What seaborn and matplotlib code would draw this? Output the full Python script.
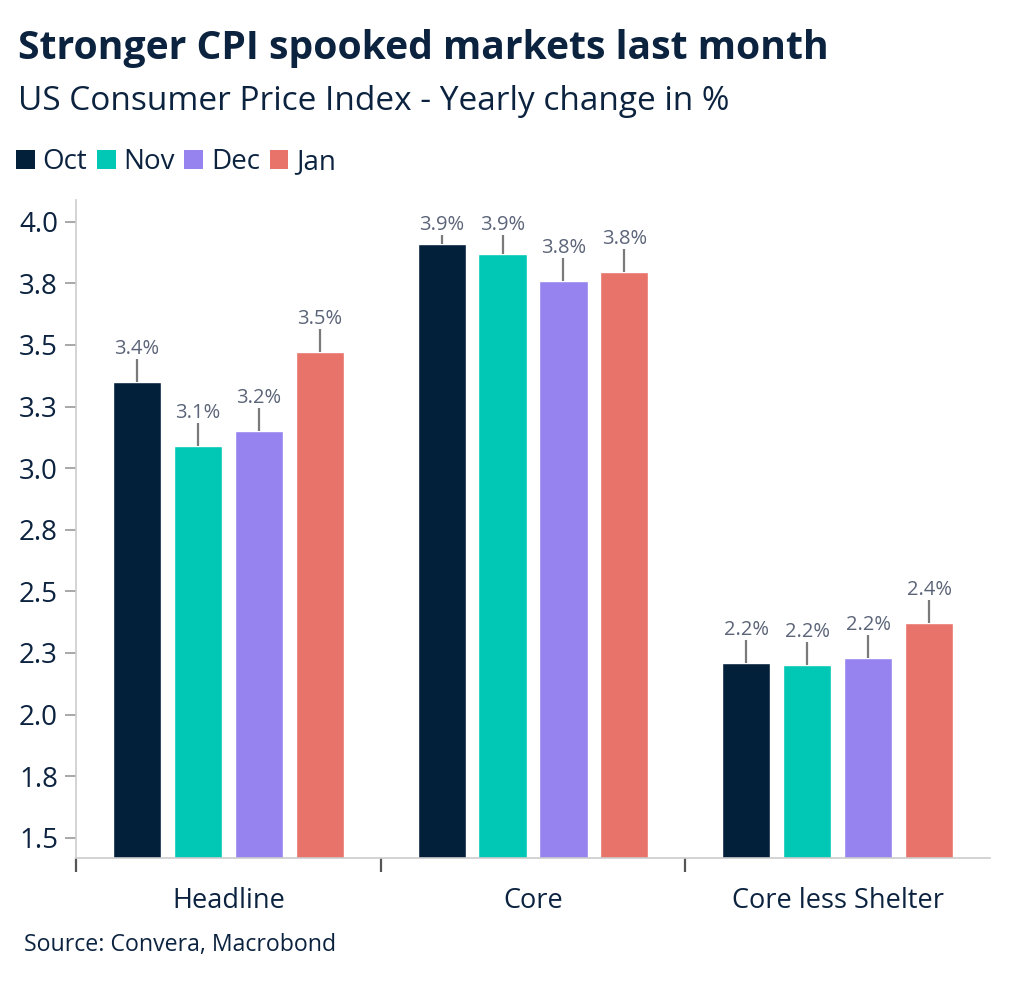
import matplotlib
matplotlib.use("Agg")
import matplotlib.pyplot as plt
import seaborn as sns
import pandas as pd
from matplotlib.patches import Patch

# ---- data ----
categories = ["Headline", "Core", "Core less Shelter"]
months = ["Oct", "Nov", "Dec", "Jan"]
oct_vals = [3.35, 3.91, 2.21]
nov_vals = [3.09, 3.87, 2.20]
dec_vals = [3.15, 3.76, 2.23]
jan_vals = [3.47, 3.795, 2.37]
oct_lbls = ["3.4%", "3.9%", "2.2%"]
nov_lbls = ["3.1%", "3.9%", "2.2%"]
dec_lbls = ["3.2%", "3.8%", "2.2%"]
jan_lbls = ["3.5%", "3.8%", "2.4%"]
ytick_vals = [1.5, 1.75, 2.0, 2.25, 2.5, 2.75, 3.0, 3.25, 3.5, 3.75, 4.0]
ytick_lbls = ["1.5", "1.8", "2.0", "2.3", "2.5", "2.8", "3.0", "3.3", "3.5", "3.8", "4.0"]

colors = ["#03203b", "#00c8b4", "#9683ef", "#e8736a"]
navy = "#0c2340"
lblcol = "#5b6478"

series = [oct_vals, nov_vals, dec_vals, jan_vals]
labels = [oct_lbls, nov_lbls, dec_lbls, jan_lbls]
rows = []
for m, vals in zip(months, series):
    for c, v in zip(categories, vals):
        rows.append({"category": c, "month": m, "value": v})
df = pd.DataFrame(rows)

sns.set_theme(style="white")
plt.rcParams["font.family"] = ["Open Sans", "DejaVu Sans"]

fig = plt.figure(figsize=(10.24, 9.85), dpi=100)
ax = fig.add_axes([76 / 1024, 1 - 858 / 985, (990 - 76) / 1024, (858 - 200) / 985])

sns.barplot(data=df, x="category", y="value", hue="month", order=categories,
            hue_order=months, palette=colors, width=0.8, gap=0.21,
            saturation=1, legend=False, ax=ax, errorbar=None)

ymin, ymax = 1.418, 4.088
ax.set_ylim(ymin, ymax)
ax.set_xlim(-0.5, 2.5)
px_per_unit = 246.4
line_len = 23 / px_per_unit
cap = 3.947

for cont, lbls in zip(ax.containers, labels):
    for bar, lb in zip(cont, lbls):
        x = bar.get_x() + bar.get_width() / 2
        top = bar.get_height()
        end = min(top + line_len, cap)
        ax.plot([x, x], [top, end], color="#7a7a7a", lw=1.6, solid_capstyle="butt", zorder=3)
        ax.text(x, end + 5 / px_per_unit, lb, ha="center", va="baseline",
                fontsize=14.5, color=lblcol, clip_on=False)

# axes styling
for s in ["top", "right"]:
    ax.spines[s].set_visible(False)
ax.spines["left"].set_color("#cccccc")
ax.spines["bottom"].set_color("#cccccc")
ax.spines["left"].set_linewidth(1.2)
ax.spines["bottom"].set_linewidth(1.2)

ax.set_yticks(ytick_vals)
ax.set_yticklabels(ytick_lbls)
ax.tick_params(axis="y", which="major", left=True, length=8, width=1.2,
               color="#999999", labelsize=20, labelcolor=navy, pad=5)

ax.set_xticks([-0.5, 0.5, 1.5])
ax.set_xticklabels(["", "", ""])
ax.set_xticks([0, 1, 2], minor=True)
ax.set_xticklabels(categories, minor=True)
ax.tick_params(axis="x", which="major", bottom=True, length=10, width=1.6,
               color="#555555", direction="out")
ax.tick_params(axis="x", which="minor", bottom=False, length=0, labelsize=19.5,
               labelcolor=navy, pad=21)
ax.set_xlabel("")
ax.set_ylabel("")
ax.grid(False)

# titles
fig.text(18 / 1024, 1 - 48 / 985, "Stronger CPI spooked markets last month",
         fontsize=28.2, fontweight="bold", color=navy, ha="left", va="center")
fig.text(18 / 1024, 1 - 101 / 985, "US Consumer Price Index - Yearly change in %",
         fontsize=24, color=navy, ha="left", va="center")
fig.text(24 / 1024, 1 - 945 / 985, "Source: Convera, Macrobond",
         fontsize=16.7, color=navy, ha="left", va="center")

handles = [Patch(facecolor=c, edgecolor="none", label=m) for c, m in zip(colors, months)]
leg = fig.legend(handles=handles, loc="center left", bbox_to_anchor=(16 / 1024, 1 - 162 / 985),
                 ncol=4, frameon=False, fontsize=20, handlelength=0.68, handleheight=0.68,
                 handletextpad=0.28, columnspacing=0.34, borderpad=0, borderaxespad=0)
for t in leg.get_texts():
    t.set_color(navy)

fig.savefig("out.png", dpi=100, facecolor="white")
